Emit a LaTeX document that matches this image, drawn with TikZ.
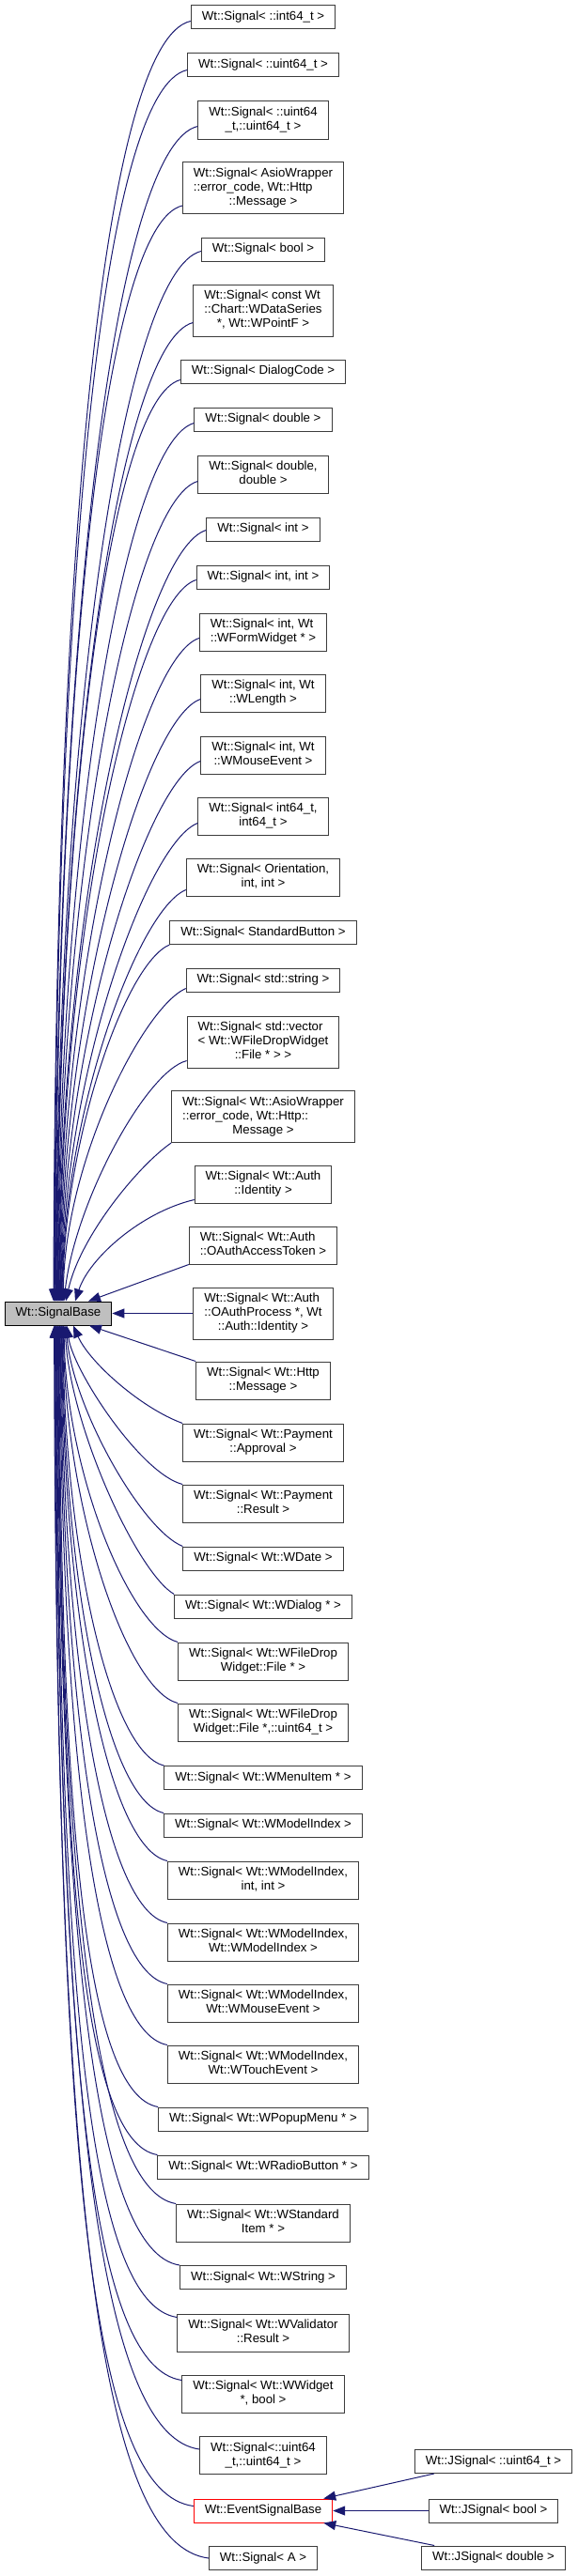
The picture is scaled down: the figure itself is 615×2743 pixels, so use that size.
\documentclass[tikz,border=0pt]{standalone}
\usepackage{fontspec}
\setmainfont{Liberation Sans}
\usetikzlibrary{arrows.meta,calc}
\definecolor{navy}{RGB}{25,25,112}
\definecolor{boxline}{RGB}{60,60,60}
\newcommand{\oneline}[1]{\begin{tabular}{@{}c@{}}#1\end{tabular}}
\newcommand{\twolines}[2]{\begin{tabular}{@{}l@{}}#1\\\multicolumn{1}{@{}c@{}}{#2}\end{tabular}}
\newcommand{\threelines}[3]{\begin{tabular}{@{}l@{}}#1\\#2\\\multicolumn{1}{@{}c@{}}{#3}\end{tabular}}
\tikzset{
	cls/.style={draw=boxline, line width=1pt, fill=white, inner xsep=11.5pt, inner ysep=5pt, font=\fontsize{13.25}{15}\selectfont},
	basecls/.style={cls, draw=black, fill=black!25},
	redcls/.style={cls, draw=red},
	inh/.style={draw=navy, line width=1pt, -{Triangle[length=13pt,width=10pt]}}
}
\begin{document}
\begin{tikzpicture}[x=1pt,y=1pt]
			\useasboundingbox (0,0) rectangle (615,-2743);
			% la classe de base
			\node[basecls] (sb) at (62,-1398.5) {\oneline{Wt::SignalBase}};
			% les classes derivees
			\node[cls] (s1) at (280,-18.5) {\oneline{Wt::Signal< ::int64\_t >}};
			\node[cls] (s2) at (280,-69.5) {\oneline{Wt::Signal< ::uint64\_t >}};
			\node[cls] (s3) at (280,-128) {\twolines{Wt::Signal< ::uint64}{\_t,::uint64\_t >}};
			\node[cls] (s4) at (280,-200) {\threelines{Wt::Signal< AsioWrapper}{::error\_code, Wt::Http}{::Message >}};
			\node[cls] (s5) at (280,-265.5) {\oneline{Wt::Signal< bool >}};
			\node[cls] (s6) at (280,-330.5) {\threelines{Wt::Signal< const Wt}{::Chart::WDataSeries}{*, Wt::WPointF >}};
			\node[cls] (s7) at (280,-395.5) {\oneline{Wt::Signal< DialogCode >}};
			\node[cls] (s8) at (280,-446.5) {\oneline{Wt::Signal< double >}};
			\node[cls] (s9) at (280,-505) {\twolines{Wt::Signal< double,}{double >}};
			\node[cls] (s10) at (280,-563.5) {\oneline{Wt::Signal< int >}};
			\node[cls] (s11) at (280,-614.5) {\oneline{Wt::Signal< int, int >}};
			\node[cls] (s12) at (280,-673) {\twolines{Wt::Signal< int, Wt}{::WFormWidget * >}};
			\node[cls] (s13) at (280,-738) {\twolines{Wt::Signal< int, Wt}{::WLength >}};
			\node[cls] (s14) at (280,-804) {\twolines{Wt::Signal< int, Wt}{::WMouseEvent >}};
			\node[cls] (s15) at (280,-869) {\twolines{Wt::Signal< int64\_t,}{int64\_t >}};
			\node[cls] (s16) at (280,-934) {\twolines{Wt::Signal< Orientation,}{int, int >}};
			\node[cls] (s17) at (280,-993) {\oneline{Wt::Signal< StandardButton >}};
			\node[cls] (s18) at (280,-1043.5) {\oneline{Wt::Signal< std::string >}};
			\node[cls] (s19) at (280,-1109.5) {\threelines{Wt::Signal< std::vector}{< Wt::WFileDropWidget}{::File * > >}};
			\node[cls] (s20) at (280,-1189) {\threelines{Wt::Signal< Wt::AsioWrapper}{::error\_code, Wt::Http::}{Message >}};
			\node[cls] (s21) at (280,-1261) {\twolines{Wt::Signal< Wt::Auth}{::Identity >}};
			\node[cls] (s22) at (280,-1326) {\twolines{Wt::Signal< Wt::Auth}{::OAuthAccessToken >}};
			\node[cls] (s23) at (280,-1398.5) {\threelines{Wt::Signal< Wt::Auth}{::OAuthProcess *, Wt}{::Auth::Identity >}};
			\node[cls] (s24) at (280,-1470) {\twolines{Wt::Signal< Wt::Http}{::Message >}};
			\node[cls] (s25) at (280,-1536) {\twolines{Wt::Signal< Wt::Payment}{::Approval >}};
			\node[cls] (s26) at (280,-1601) {\twolines{Wt::Signal< Wt::Payment}{::Result >}};
			\node[cls] (s27) at (280,-1659.5) {\oneline{Wt::Signal< Wt::WDate >}};
			\node[cls] (s28) at (280,-1710.5) {\oneline{Wt::Signal< Wt::WDialog * >}};
			\node[cls] (s29) at (280,-1769) {\twolines{Wt::Signal< Wt::WFileDrop}{Widget::File * >}};
			\node[cls] (s30) at (280,-1834) {\twolines{Wt::Signal< Wt::WFileDrop}{Widget::File *,::uint64\_t >}};
			\node[cls] (s31) at (280,-1893) {\oneline{Wt::Signal< Wt::WMenuItem * >}};
			\node[cls] (s32) at (280,-1943.5) {\oneline{Wt::Signal< Wt::WModelIndex >}};
			\node[cls] (s33) at (280,-2002) {\twolines{Wt::Signal< Wt::WModelIndex,}{int, int >}};
			\node[cls] (s34) at (280,-2068) {\twolines{Wt::Signal< Wt::WModelIndex,}{Wt::WModelIndex >}};
			\node[cls] (s35) at (280,-2133) {\twolines{Wt::Signal< Wt::WModelIndex,}{Wt::WMouseEvent >}};
			\node[cls] (s36) at (280,-2198) {\twolines{Wt::Signal< Wt::WModelIndex,}{Wt::WTouchEvent >}};
			\node[cls] (s37) at (280,-2256.5) {\oneline{Wt::Signal< Wt::WPopupMenu * >}};
			\node[cls] (s38) at (280,-2307.5) {\oneline{Wt::Signal< Wt::WRadioButton * >}};
			\node[cls] (s39) at (280,-2367) {\twolines{Wt::Signal< Wt::WStandard}{Item * >}};
			\node[cls] (s40) at (280,-2425) {\oneline{Wt::Signal< Wt::WString >}};
			\node[cls] (s41) at (280,-2484) {\twolines{Wt::Signal< Wt::WValidator}{::Result >}};
			\node[cls] (s42) at (280,-2549) {\twolines{Wt::Signal< Wt::WWidget}{*, bool >}};
			\node[cls] (s43) at (280,-2614.5) {\twolines{Wt::Signal<::uint64}{\_t,::uint64\_t >}};
			\node[redcls] (evb) at (280,-2673.5) {\oneline{Wt::EventSignalBase}};
			\node[cls] (s45) at (280,-2724) {\oneline{Wt::Signal< A >}};
			% les JSignal
			\node[cls] (j1) at (525,-2621) {\oneline{Wt::JSignal< ::uint64\_t >}};
			\node[cls] (j2) at (525,-2673.5) {\oneline{Wt::JSignal< bool >}};
			\node[cls] (j3) at (525,-2723.5) {\oneline{Wt::JSignal< double >}};
			% les liens du haut
			\foreach \c/\s [count=\k] in {s1/9, s2/8, s3/14, s4/9, s5/11, s6/15, s7/4, s8/9, s9/13, s10/12, s11/10, s12/14, s13/14, s14/14, s15/13, s16/7, s17/0, s18/4}
				\draw[inh] let \p1=([yshift=\s pt]\c.south west), \p2=([xshift={(0.6*\k-5.6)*1pt}]sb.north), \n1={(\y1)-(\y2)} in
					(\p1) .. controls ($(\p1)+({-min(90,30+0.045*\n1)},-20)$) and ($(\p2)+(2,{(0.4+0.00016*\n1)*\n1})$) .. (\p2);
			\draw[inh] ([yshift=8pt]s19.south west) .. controls +(-43,-11) and +(12,106) .. ([xshift=6pt]sb.north);
			\draw[inh] (s20.south west) .. controls +(-36,-25) and +(15,68) .. ([xshift=8pt]sb.north);
			\draw[inh] ([yshift=4pt]s21.south west) .. controls +(-56,-13) and +(15,46) .. ([xshift=18pt]sb.north);
			\draw[inh] (s22.south west) -- ([xshift=32pt]sb.north);
			\draw[inh] (s23.west) -- (sb.east);
			% les liens du bas
			\draw[inh] (s24.north west) -- ([xshift=33pt]sb.south);
			\draw[inh] (s25.north west) .. controls +(-44,16) and +(17,-39) .. ([xshift=16pt]sb.south);
			\draw[inh] (s26.north west) .. controls +(-44,11) and +(7,-49) .. ([xshift=9pt]sb.south);
			\draw[inh] (s27.north west) .. controls +(-43,17) and +(8,-89) .. ([xshift=8pt]sb.south);
			\draw[inh] (s28.north west) .. controls +(-39,23) and +(6,-109) .. ([xshift=7pt]sb.south);
			\foreach \c/\s [count=\k] in {s29/0, s30/0, s31/0, s32/0, s33/0, s34/0, s35/0, s36/0, s37/0, s38/0, s39/0, s40/0, s41/-4, s42/-6, s43/-14, evb/-8, s45/-13}
				\draw[inh] let \p1=([yshift=\s pt]\c.north west), \p2=([xshift={(6.7-0.65*\k)*1pt}]sb.south), \n1={(\y2)-(\y1)} in
					(\p1) .. controls ($(\p1)+({-min(110,30+0.06*\n1)},14)$) and ($(\p2)+(2,{-(0.37+0.00029*\n1)*\n1})$) .. (\p2);
			% les liens vers EventSignalBase
			\draw[inh] ([xshift=21pt]j1.south west) -- ([xshift=-10pt]evb.north east);
			\draw[inh] (j2.west) -- (evb.east);
			\draw[inh] ([xshift=14pt]j3.north west) -- ([xshift=-10pt]evb.south east);
		\end{tikzpicture}
\end{document}
